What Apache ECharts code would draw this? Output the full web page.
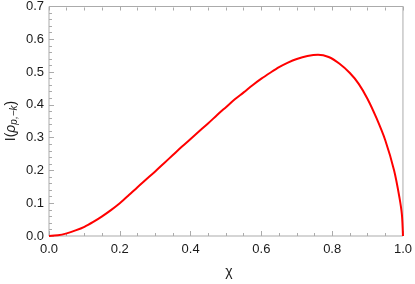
<!DOCTYPE html>
<html>
<head>
<meta charset="utf-8">
<script src="https://cdn.jsdelivr.net/npm/echarts@6/dist/echarts.min.js"></script>
<style>html,body{margin:0;padding:0;background:#fff;}#c{width:415px;height:284px;}</style>
</head>
<body>
<div id="c"></div>
<script>
var xValues = [0, 0.025, 0.05, 0.075, 0.1, 0.125, 0.15, 0.175, 0.2, 0.225, 0.25, 0.275, 0.3, 0.325, 0.35, 0.375, 0.4, 0.425, 0.45, 0.475, 0.5, 0.525, 0.55, 0.575, 0.6, 0.625, 0.65, 0.675, 0.7, 0.73, 0.76, 0.79, 0.82, 0.85, 0.875, 0.9, 0.925, 0.95, 0.975, 0.99, 0.997, 1.0];
var yValues = [0, 0.002, 0.008, 0.017, 0.028, 0.043, 0.060, 0.079, 0.100, 0.124, 0.149, 0.173, 0.197, 0.222, 0.247, 0.272, 0.296, 0.320, 0.344, 0.369, 0.393, 0.417, 0.438, 0.460, 0.480, 0.498, 0.515, 0.529, 0.540, 0.549, 0.553, 0.546, 0.526, 0.497, 0.464, 0.418, 0.360, 0.292, 0.200, 0.118, 0.065, 0];
var xTicks = [0, 0.2, 0.4, 0.6, 0.8, 1.0];
var yTicks = [0, 0.1, 0.2, 0.3, 0.4, 0.5, 0.6, 0.7];
var xTitle = 'χ';
var yTitle = '{a|I(}{b|ρ}{s|p,−k}{a|)}';

var frame = '#ababab';
var textColor = '#1a1a1a';
var font = 'Liberation Sans, Arial, sans-serif';
var data = xValues.map(function (x, i) { return [x, yValues[i]]; });

var chart = echarts.init(document.getElementById('c'), null, { renderer: 'canvas' });
chart.setOption({
  animation: false,
  backgroundColor: '#fff',
  grid: { left: 49, right: 10, top: 6, bottom: 48, show: true, borderColor: frame, borderWidth: 1 },
  xAxis: [{
    type: 'value', min: xTicks[0], max: xTicks[xTicks.length - 1], interval: 0.2, position: 'bottom',
    axisLine: { show: false, onZero: false },
    axisTick: { show: true, inside: true, length: 5, lineStyle: { color: frame, width: 1 } },
    minorTick: { show: true, splitNumber: 4, length: 3, lineStyle: { color: frame, width: 1 } },
    splitLine: { show: false },
    axisLabel: { color: textColor, fontSize: 13, fontFamily: font, margin: 7, formatter: function (v) { return v.toFixed(1); } }
  }, {
    type: 'value', min: xTicks[0], max: xTicks[xTicks.length - 1], interval: 0.2, position: 'top', offset: -4,
    axisLine: { show: false, onZero: false },
    axisTick: { show: true, length: 4, lineStyle: { color: frame } },
    minorTick: { show: true, splitNumber: 4, length: 3, lineStyle: { color: frame } },
    splitLine: { show: false },
    axisLabel: { show: false }
  }],
  yAxis: [{
    type: 'value', min: yTicks[0], max: yTicks[yTicks.length - 1], interval: 0.1, position: 'left',
    axisLine: { show: false, onZero: false },
    axisTick: { show: true, inside: true, length: 5, lineStyle: { color: frame } },
    minorTick: { show: true, splitNumber: 5, length: 3, lineStyle: { color: frame } },
    splitLine: { show: false },
    axisLabel: { color: textColor, fontSize: 13, fontFamily: font, margin: 5, formatter: function (v) { return v.toFixed(1); } }
  }],
  graphic: [{
    type: 'text', x: 229, y: 272,
    style: { text: xTitle, fill: textColor, font: '14px ' + font, align: 'center', verticalAlign: 'middle', textAlign: 'center', textVerticalAlign: 'middle' }
  }, {
    type: 'text', x: 11, y: 121, rotation: Math.PI / 2,
    style: {
      text: yTitle, fill: textColor, font: '14px ' + font,
      align: 'center', verticalAlign: 'middle', textAlign: 'center', textVerticalAlign: 'middle',
      rich: {
        a: { fontSize: 14, fontFamily: font, fill: textColor, color: textColor },
        b: { fontSize: 14, fontFamily: font, fontStyle: 'italic', fill: textColor, color: textColor },
        s: { fontSize: 10, fontFamily: font, fontStyle: 'italic', fill: textColor, color: textColor, verticalAlign: 'bottom', padding: [6, 0, 0, 0] }
      }
    }
  }],
  series: [{
    type: 'line', xAxisIndex: 0, yAxisIndex: 0, data: data, smooth: 0.3, showSymbol: false,
    lineStyle: { color: '#ff0000', width: 2 }
  }]
});
</script>
</body>
</html>
